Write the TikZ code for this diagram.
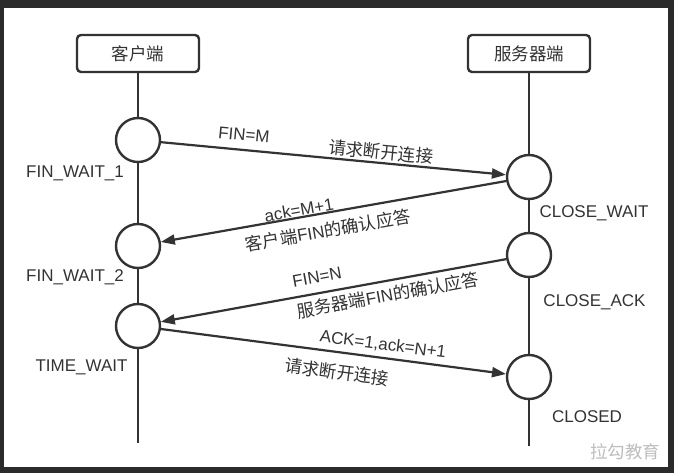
\documentclass[tikz,border=0pt]{standalone}
\usepackage{fontspec}
\setmainfont{Liberation Sans}
\newfontfamily\cjk{Noto Sans CJK SC}
\usetikzlibrary{arrows.meta}

\definecolor{ink}{HTML}{333333}
\definecolor{framecol}{HTML}{2B2B2B}
\definecolor{markcol}{HTML}{BDBDBD}

% Chinese run inside a Latin label
\newcommand\zh[1]{{\cjk\fontsize{17.5}{20}\selectfont #1}}

\begin{document}
\begin{tikzpicture}[x=1pt,y=-1pt,
  party/.style={draw=ink, line width=2.4pt, rounded corners=4pt, fill=white,
    minimum width=122pt, minimum height=37pt, inner sep=0pt, text=ink,
    font=\cjk\fontsize{17.5}{20}\selectfont},
  state/.style={circle, draw=ink, line width=2.4pt, fill=white,
    minimum size=44pt, inner sep=0pt},
  life/.style={draw=ink, line width=2.4pt},
  msg/.style={draw=ink, line width=2.2pt, -{Triangle[length=14pt,width=10pt]}},
  lbl/.style={text=ink, inner sep=0pt, font=\fontsize{17}{20}\selectfont},
  cn/.style={text=ink, inner sep=0pt, font=\cjk\fontsize{17.5}{20}\selectfont},
]
\useasboundingbox (0,0) rectangle (674,473);

% dark surround and white sheet
\fill[framecol] (0,0) rectangle (674,473);
\fill[white] (4,8) rectangle (668,467);

% participants
\node[party] (client) at (138,53.5) {客户端};
\node[party] (server) at (529,53.5) {服务器端};

% lifeline ends
\coordinate (clientEnd) at (138,443);
\coordinate (serverEnd) at (529,446);
\draw[life] (client.south) -- (clientEnd);
\draw[life] (server.south) -- (serverEnd);

% state circles
\node[state] (c1) at (138,140) {};
\node[state] (c2) at (138,246) {};
\node[state] (c3) at (138,326) {};
\node[state] (s1) at (529,177) {};
\node[state] (s2) at (529,255) {};
\node[state] (s3) at (529,377) {};

% state names
\node[lbl] (st1) at (75,173) {FIN\_WAIT\_1};
\node[lbl] (st2) at (75,277) {FIN\_WAIT\_2};
\node[lbl] (st3) at (81.5,367) {TIME\_WAIT};
\node[lbl] (st4) at (594,213) {CLOSE\_WAIT};
\node[lbl] (st5) at (594.5,302) {CLOSE\_ACK};
\node[lbl] (st6) at (587,417) {CLOSED};

% messages
\draw[msg] (c1) -- (s1);
\draw[msg] (s1) -- (c2);
\draw[msg] (s2) -- (c3);
\draw[msg] (c3) -- (s3);

% message labels
\node[lbl, rotate=-5.4] (m1a) at (244,135) {FIN=M};
\node[cn,  rotate=-5.4] (m1b) at (381,152) {请求断开连接};
\node[lbl, rotate=10]   (m2a) at (299,210) {ack=M+1};
\node[lbl, rotate=10]   (m2b) at (328,230) {\zh{客户端}FIN\zh{的确认应答}};
\node[lbl, rotate=10.3] (m3a) at (317,277) {FIN=N};
\node[lbl, rotate=10.3] (m3b) at (388,295) {\zh{服务器端}FIN\zh{的确认应答}};
\node[lbl, rotate=-7.4] (m4a) at (383,345) {ACK=1,ack=N+1};
\node[cn,  rotate=-7.4] (m4b) at (337,372) {请求断开连接};

% watermark
\node[cn, text=markcol] (wm) at (625,452) {拉勾教育};
\end{tikzpicture}
\end{document}
